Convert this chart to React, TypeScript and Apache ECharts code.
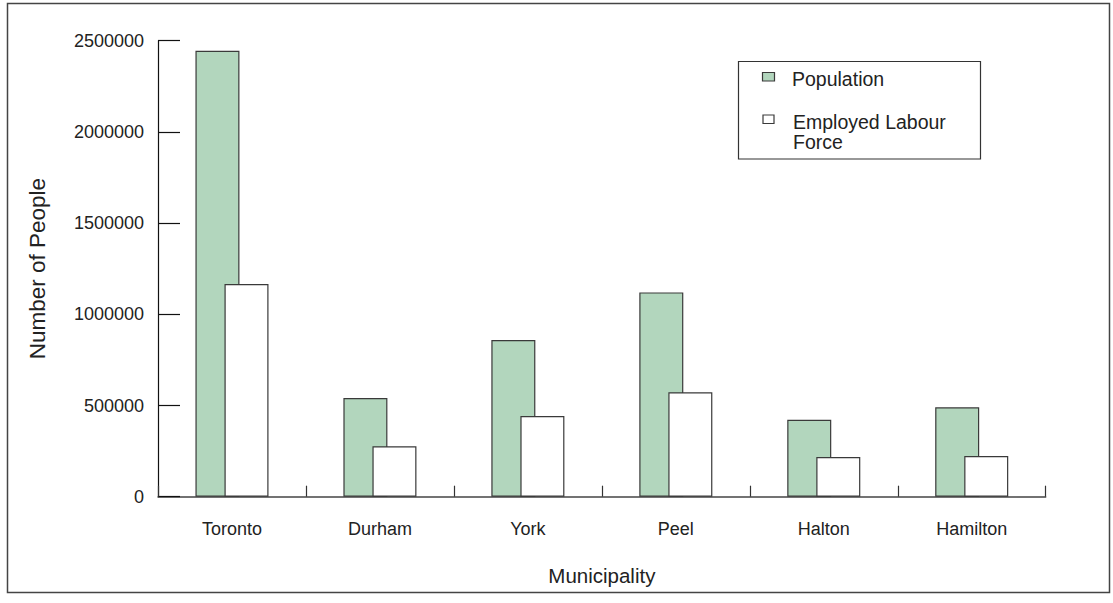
import React, { useEffect, useRef } from "react";
import * as echarts from "echarts";

const categories = ["Toronto", "Durham", "York", "Peel", "Halton", "Hamilton"];
const population = [2445000, 541000, 859000, 1120000, 422000, 490000];
const labourForce = [1166000, 276000, 442000, 572000, 218000, 223000];
const seriesNames = ["Population", "Employed Labour Force"];
const legendLines = ["Employed Labour", "Force"];

const FONT = 'Arial, "Liberation Sans", Helvetica, sans-serif';
const GREEN = "#b2d6bd";
const EDGE = "#3a3a3a";

export default function App() {
  const ref = useRef<HTMLDivElement>(null);
  useEffect(() => {
    if (!ref.current) return;
    const chart = echarts.init(ref.current, undefined, { renderer: "svg" });
    chart.setOption({
      animation: false,
      backgroundColor: "#ffffff",
      textStyle: { fontFamily: FONT },
      grid: { left: 158, top: 40.7, right: 67.3, bottom: 106.3, containLabel: false },
      xAxis: {
        type: "category",
        data: categories,
        name: "Municipality",
        nameLocation: "middle",
        nameGap: 68,
        nameTextStyle: { fontSize: 20.5, color: "#222", fontFamily: FONT },
        axisLine: { show: true, lineStyle: { color: "#444", width: 1.5 } },
        axisTick: { show: true, inside: true, length: 11, interval: 0, alignWithLabel: false, lineStyle: { color: "#333", width: 1.2 } },
        axisLabel: { fontSize: 18, color: "#222", margin: 23, fontFamily: FONT },
        splitLine: { show: false },
      },
      yAxis: {
        type: "value",
        min: 0,
        max: 2500000,
        interval: 500000,
        name: "Number of People",
        nameLocation: "middle",
        nameGap: 109,
        nameTextStyle: { fontSize: 22.5, color: "#222", fontFamily: FONT },
        axisLine: { show: true, lineStyle: { color: "#111", width: 1.2 } },
        axisTick: { show: true, inside: true, length: 22, lineStyle: { color: "#111", width: 1.2 } },
        axisLabel: {
          fontSize: 18,
          color: "#222",
          margin: 14,
          fontFamily: FONT,
          formatter: (v: number) => String(v),
        },
        splitLine: { show: false },
      },
      series: [
        {
          name: seriesNames[0],
          type: "bar",
          data: population,
          barWidth: 44,
          barGap: "-34%",
          itemStyle: { color: GREEN, borderColor: EDGE, borderWidth: 1.2 },
        },
        {
          name: seriesNames[1],
          type: "bar",
          data: labourForce,
          barWidth: 44,
          barGap: "-34%",
          itemStyle: { color: "#ffffff", borderColor: EDGE, borderWidth: 1.2 },
        },
      ],
      graphic: [
        {
          type: "rect",
          shape: { x: 7.5, y: 3.5, width: 1102, height: 589 },
          style: { fill: "none", stroke: "#444", lineWidth: 1.5 },
          silent: true,
        },
        {
          type: "rect",
          shape: { x: 738.5, y: 61.5, width: 242, height: 97.5 },
          style: { fill: "#fff", stroke: "#333", lineWidth: 1.2 },
          silent: true,
        },
        {
          type: "rect",
          shape: { x: 762.5, y: 72.5, width: 12, height: 8.5 },
          style: { fill: GREEN, stroke: EDGE, lineWidth: 1.2 },
        },
        {
          type: "text",
          x: 792,
          y: 79,
          style: { text: seriesNames[0], fontSize: 19.5, fill: "#222", fontFamily: FONT, verticalAlign: "middle", align: "left" },
        },
        {
          type: "rect",
          shape: { x: 763, y: 115, width: 11, height: 8.5 },
          style: { fill: "#fff", stroke: EDGE, lineWidth: 1.2 },
        },
        {
          type: "text",
          x: 793,
          y: 121.7,
          style: { text: legendLines[0], fontSize: 19.5, fill: "#222", fontFamily: FONT, verticalAlign: "middle", align: "left" },
        },
        {
          type: "text",
          x: 793,
          y: 142,
          style: { text: legendLines[1], fontSize: 19.5, fill: "#222", fontFamily: FONT, verticalAlign: "middle", align: "left" },
        },
      ],
    });
    return () => chart.dispose();
  }, []);
  return (
    <div
      ref={ref}
      style={{ position: "absolute", left: 0, top: 0, width: 1113, height: 603 }}
    />
  );
}
